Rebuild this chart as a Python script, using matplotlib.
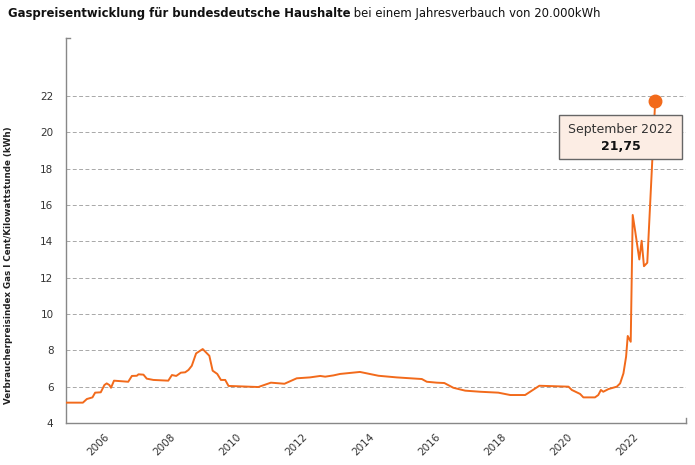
import matplotlib
matplotlib.use("Agg")
import matplotlib.pyplot as plt
from matplotlib.patches import Rectangle

# ---- data (decimal year, ct/kWh) ----
years = [2004.87, 2005.36, 2005.48, 2005.65, 2005.73, 2005.90, 2006.01, 2006.08, 2006.16, 2006.21,
         2006.30, 2006.73, 2006.84, 2006.99, 2007.04, 2007.19, 2007.29, 2007.49, 2007.94, 2008.05,
         2008.18, 2008.32, 2008.45, 2008.55, 2008.65, 2008.78, 2008.98, 2009.18, 2009.28, 2009.42,
         2009.53, 2009.66, 2009.76, 2010.66, 2011.04, 2011.45, 2011.82, 2012.22, 2012.53, 2012.68,
         2012.93, 2013.13, 2013.73, 2014.29, 2014.84, 2015.60, 2015.75, 2016.05, 2016.28, 2016.55,
         2016.91, 2017.36, 2017.91, 2018.27, 2018.72, 2019.15, 2020.03, 2020.13, 2020.38, 2020.48,
         2020.83, 2020.93, 2021.01, 2021.08, 2021.24, 2021.49, 2021.59, 2021.69, 2021.77, 2021.82,
         2021.91, 2021.97, 2022.04, 2022.17, 2022.24, 2022.31, 2022.41, 2022.65]
prices = [5.12, 5.12, 5.32, 5.41, 5.67, 5.69, 6.09, 6.18, 6.09, 5.94,
          6.33, 6.27, 6.59, 6.60, 6.68, 6.66, 6.44, 6.37, 6.33, 6.64,
          6.59, 6.77, 6.79, 6.92, 7.15, 7.83, 8.07, 7.70, 6.88, 6.70,
          6.37, 6.37, 6.04, 5.98, 6.22, 6.16, 6.46, 6.51, 6.59, 6.55,
          6.62, 6.70, 6.81, 6.60, 6.51, 6.42, 6.27, 6.22, 6.20, 5.94,
          5.78, 5.72, 5.67, 5.54, 5.54, 6.05, 6.00, 5.82, 5.60, 5.41,
          5.41, 5.54, 5.82, 5.72, 5.87, 6.00, 6.18, 6.73, 7.65, 8.79,
          8.47, 15.45, 14.62, 13.00, 14.03, 12.63, 12.82, 21.75]
year_ticks = [2006, 2008, 2010, 2012, 2014, 2016, 2018, 2020, 2022]
value_ticks = [4, 6, 8, 10, 12, 14, 16, 18, 20, 22]
title_bold = "Gaspreisentwicklung für bundesdeutsche Haushalte"
title_regular = " bei einem Jahresverbauch von 20.000kWh"
ylabel = "Verbraucherpreisindex Gas l Cent/Kilowattstunde (kWh)"
peak_label = "September 2022"
peak_value_label = "21,75"

LINE = "#f26a1b"
plt.rcParams["font.family"] = ["DejaVu Sans"]

fig = plt.figure(figsize=(6.95, 4.65), dpi=100)
ax = fig.add_axes([66/695, 42/465, 620/695, 385/465])

ax.plot(years, prices, color=LINE, lw=1.4, zorder=3, solid_joinstyle="round")
ax.plot([years[-1]], [prices[-1]], "o", color=LINE, ms=9, zorder=6, clip_on=False)

ax.set_xlim(2004.85, 2023.58)
ax.set_ylim(4, 25.19)
ax.set_yticks(value_ticks)
ax.set_xticks(year_ticks)
ax.set_xticklabels([str(y) for y in year_ticks], rotation=45, ha="right",
                   rotation_mode="anchor", fontsize=7.5, color="#333333")
ax.set_yticklabels([str(v) for v in value_ticks], fontsize=7.5, color="#333333")
ax.tick_params(axis="both", length=0)
ax.tick_params(axis="y", pad=9)
ax.tick_params(axis="x", pad=6)

for v in value_ticks[1:]:
    ax.axhline(v, color="#a8a8a8", lw=0.7, ls=(0, (4, 2.5)), zorder=1)

for s in ["top", "right"]:
    ax.spines[s].set_visible(False)
for s in ["left", "bottom"]:
    ax.spines[s].set_color("#888888")
    ax.spines[s].set_linewidth(1.0)
# small end ticks
ax.plot([0, 0.007], [1, 1], transform=ax.transAxes, color="#888888", lw=1.0, clip_on=False)
ax.plot([1, 1], [0, 0.014], transform=ax.transAxes, color="#888888", lw=1.0, clip_on=False)

ax.set_ylabel(ylabel, fontsize=6.3, fontweight="bold", color="#222222", labelpad=12)
ax.yaxis.set_label_coords(-0.086, 0.41)

# annotation box
x0 = (559 - 66) / 620; x1 = (682 - 66) / 620
y0 = (423 - 159) / 385; y1 = (423 - 115) / 385
ax.add_patch(Rectangle((x0, y0), x1 - x0, y1 - y0, transform=ax.transAxes,
                       facecolor="#fcede4", edgecolor="#666666", lw=1.0, zorder=5, clip_on=False))
cx = (x0 + x1) / 2
ax.text(cx, (423 - 130) / 385, peak_label, transform=ax.transAxes, ha="center", va="center",
        fontsize=9, color="#333333", zorder=7)
ax.text(cx, (423 - 146) / 385, peak_value_label, transform=ax.transAxes, ha="center", va="center",
        fontsize=9, fontweight="bold", color="#111111", zorder=7)

# title in two parts
t1 = fig.text(8/695, 1 - 14/465, title_bold, fontsize=8.4, fontweight="bold",
              color="#111111", va="center", ha="left")
fig.canvas.draw()
bb = t1.get_window_extent()
fig.text(bb.x1 / fig.bbox.width, 1 - 14/465, title_regular, fontsize=8.4,
         color="#111111", va="center", ha="left")

fig.savefig("out.png", dpi=100)
